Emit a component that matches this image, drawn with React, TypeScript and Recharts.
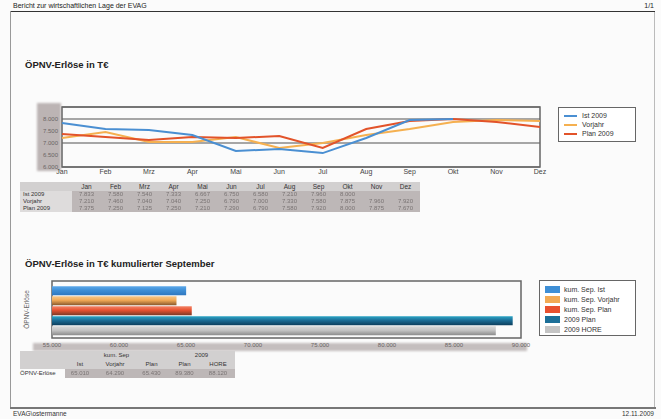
import React from "react";
import { LineChart, Line, XAxis, YAxis, CartesianGrid, ReferenceArea, BarChart, Bar } from "recharts";

// Monatswerte ÖPNV-Erlöse in T€
const MONTHS = ["Jan", "Feb", "Mrz", "Apr", "Mai", "Jun", "Jul", "Aug", "Sep", "Okt", "Nov", "Dez"];
const IST_2009 = [7833, 7580, 7540, 7333, 6667, 6750, 6580, 7210, 7960, 8000, null, null];
const VORJAHR = [7210, 7460, 7040, 7040, 7250, 6790, 7000, 7330, 7580, 7875, 7960, 7920];
const PLAN_2009 = [7375, 7250, 7125, 7250, 7210, 7290, 6790, 7580, 7920, 8000, 7875, 7670];
const LINE_TICKS = [6000, 6500, 7000, 7500, 8000];

// kumulierter September
const BAR_CATEGORY = "ÖPNV-Erlöse";
const KUM_SEP_IST = 65010;
const KUM_SEP_VORJAHR = 64290;
const KUM_SEP_PLAN = 65430;
const PLAN_2009_JAHR = 89380;
const HORE_2009 = 88120;
const BAR_TICKS = [55000, 60000, 65000, 70000, 75000, 80000, 85000, 90000];

const LINE_SERIES = [
  { key: "ist", name: "Ist 2009", color: "#4a8fd2" },
  { key: "vorjahr", name: "Vorjahr", color: "#f5b050" },
  { key: "plan", name: "Plan 2009", color: "#e2532a" },
];

const BAR_SERIES = [
  { key: "ist", name: "kum. Sep. Ist", color: "#3f8fd6", top: "#5ca8ea", bottom: "#2f78c0" },
  { key: "vorjahr", name: "kum. Sep. Vorjahr", color: "#f2aa55", top: "#f7c88c", bottom: "#8a5a2e" },
  { key: "plan", name: "kum. Sep. Plan", color: "#e8512f", top: "#f2866a", bottom: "#7e3a26" },
  { key: "plan2009", name: "2009 Plan", color: "#1c6f98", top: "#2ba6c6", bottom: "#0d3f5e" },
  { key: "hore", name: "2009 HORE", color: "#c4c4c4", top: "#dadada", bottom: "#8c8c8c" },
];

const lineData = MONTHS.map((m, i) => ({ month: m, ist: IST_2009[i], vorjahr: VORJAHR[i], plan: PLAN_2009[i] }));
const barData = [{
  name: BAR_CATEGORY, ist: KUM_SEP_IST, vorjahr: KUM_SEP_VORJAHR, plan: KUM_SEP_PLAN,
  plan2009: PLAN_2009_JAHR, hore: HORE_2009,
}];

const fmt = (v: number | null) => (v == null ? "" : v.toLocaleString("de-DE"));
const FONT = "'Liberation Sans', Arial, sans-serif";

const abs = (left: number, top: number, extra: React.CSSProperties = {}): React.CSSProperties => ({
  position: "absolute", left, top, ...extra,
});

function LegendBox({ items, kind, style }: {
  items: { name: string; color: string }[]; kind: "line" | "bar"; style: React.CSSProperties;
}) {
  return (
    <div style={{ ...style, border: "1px solid #666", background: "#fff", boxSizing: "border-box", padding: "3px 5px" }}>
      {items.map((it) => (
        <div key={it.name} style={{ display: "flex", alignItems: "center", height: kind === "line" ? 9 : 10 }}>
          {kind === "line"
            ? <span style={{ width: 13, height: 2, background: it.color, marginRight: 5 }} />
            : <span style={{ width: 15, height: 7, background: it.color, marginRight: 4 }} />}
          <span style={{ fontSize: 7, color: "#333" }}>{it.name}</span>
        </div>
      ))}
    </div>
  );
}

const cell: React.CSSProperties = { padding: 0, height: 7, lineHeight: "7px", textAlign: "center", whiteSpace: "nowrap" };
const valueCell: React.CSSProperties = { ...cell, background: "#bdb7b7", color: "#7a7474", filter: "blur(0.4px)" };

export default function App() {
  return (
    <div style={{ position: "absolute", left: 0, top: 0, width: 661, height: 419, background: "#fbfbfb", fontFamily: FONT, overflow: "hidden" }}>
      {/* Seitenrahmen */}
      <div style={abs(10, 11, { width: 645, height: 397, borderLeft: "1px solid #999", borderRight: "1px solid #bbb", boxSizing: "border-box" })} />
      <div style={abs(13, 2, { fontSize: 7, color: "#222" })}>Bericht zur wirtschaftlichen Lage der EVAG</div>
      <div style={abs(630, 2, { width: 24, textAlign: "right", fontSize: 7, color: "#222" })}>1/1</div>
      <div style={abs(11, 11, { width: 644, height: 1, background: "#333" })} />
      <div style={abs(10, 407, { width: 646, height: 2, background: "#777" })} />
      <div style={abs(13, 410, { fontSize: 6.5, color: "#333" })}>EVAG\ostermanne</div>
      <div style={abs(600, 410, { width: 54, textAlign: "right", fontSize: 6.5, color: "#333" })}>12.11.2009</div>

      {/* Liniendiagramm */}
      <div style={abs(25, 59, { fontSize: 9.5, fontWeight: "bold", color: "#222" })}>ÖPNV-Erlöse in T€</div>
      <div style={abs(37, 103, { width: 24, height: 68, background: "#bcb4b4", filter: "blur(1px)" })} />
      <div style={abs(0, 90)}>
        <LineChart width={661} height={100} data={lineData} margin={{ top: 17, right: 121, bottom: 3, left: 0 }}>
          <CartesianGrid vertical={false} stroke="#8a8a8a" strokeWidth={1.3} />
          <XAxis dataKey="month" scale="point" axisLine={false} tickLine={false} tickSize={0} tickMargin={2}
            interval={0} height={20} tick={{ fontSize: 7, fill: "#444", fontFamily: FONT }} />
          <YAxis domain={[6000, 8500]} ticks={LINE_TICKS} width={62} axisLine={false} tickLine={false}
            tickSize={0} tickMargin={4} tickFormatter={fmt} tick={{ fontSize: 6, fill: "#6a6464", fontFamily: FONT }} />
          <ReferenceArea x1="Jan" x2="Dez" y1={6000} y2={8500} fill="none" fillOpacity={0}
            stroke="#666" strokeWidth={1.5} ifOverflow="visible" />
          <Line dataKey="vorjahr" stroke="#f5b050" strokeWidth={2} dot={false} isAnimationActive={false} />
          <Line dataKey="plan" stroke="#e2532a" strokeWidth={2} dot={false} isAnimationActive={false} />
          <Line dataKey="ist" stroke="#4a8fd2" strokeWidth={2} dot={false} isAnimationActive={false} />
        </LineChart>
      </div>
      <LegendBox items={LINE_SERIES} kind="line" style={abs(558, 107, { width: 78, height: 35 })} />

      <table style={{ ...abs(20, 182), width: 400, borderCollapse: "collapse", tableLayout: "fixed", fontSize: 6, color: "#333" }}>
        <colgroup>
          <col style={{ width: 52 }} />
          {MONTHS.map((m) => <col key={m} style={{ width: 29 }} />)}
        </colgroup>
        <tbody>
          <tr style={{ background: "#d2d0d0" }}>
            <td style={{ ...cell, height: 9 }} />
            {MONTHS.map((m) => <td key={m} style={{ ...cell, height: 9, fontSize: 6.5 }}>{m}</td>)}
          </tr>
          {[
            { label: "Ist 2009", values: IST_2009 },
            { label: "Vorjahr", values: VORJAHR },
            { label: "Plan 2009", values: PLAN_2009 },
          ].map((row) => (
            <tr key={row.label}>
              <td style={{ ...cell, textAlign: "left", paddingLeft: 3, background: "#dedcdc" }}>{row.label}</td>
              {row.values.map((v, i) => <td key={i} style={valueCell}>{fmt(v)}</td>)}
            </tr>
          ))}
        </tbody>
      </table>

      {/* Balkendiagramm */}
      <div style={abs(25, 258, { fontSize: 9.5, fontWeight: "bold", color: "#222" })}>ÖPNV-Erlöse in T€  kumulierter September</div>
      <div style={abs(33, 343, { width: 494, height: 8, background: "#c4bebe", filter: "blur(1px)" })} />
      <div style={abs(0, 270)}>
        <BarChart width={661} height={82} layout="vertical" data={barData}
          margin={{ top: 11, right: 140, bottom: 0, left: 20 }} barCategoryGap="9%" barGap={1}>
          <defs>
            {BAR_SERIES.map((s) => (
              <linearGradient key={s.key} id={`g-${s.key}`} x1="0" y1="0" x2="0" y2="1">
                <stop offset="0%" stopColor={s.top} />
                <stop offset="45%" stopColor={s.color} />
                <stop offset="100%" stopColor={s.bottom} />
              </linearGradient>
            ))}
          </defs>
          <XAxis type="number" domain={[55000, 90000]} ticks={BAR_TICKS} allowDataOverflow axisLine={false}
            tickLine={false} tickSize={0} tickMargin={5} height={14} tickFormatter={fmt}
            tick={{ fontSize: 6, fill: "#6a6464", fontFamily: FONT }} />
          <YAxis type="category" dataKey="name" width={32} tick={false} axisLine={false} tickLine={false}
            label={{ value: BAR_CATEGORY, angle: -90, position: "insideLeft", offset: 7,
              style: { fontSize: 6.5, fill: "#666", textAnchor: "middle", fontFamily: FONT } }} />
          <ReferenceArea x1={55000} x2={90000} y1={BAR_CATEGORY} y2={BAR_CATEGORY} fill="none" fillOpacity={0}
            stroke="#666" strokeWidth={1.5} ifOverflow="visible" />
          {BAR_SERIES.map((s) => (
            <Bar key={s.key} dataKey={s.key} name={s.name} fill={`url(#g-${s.key})`} isAnimationActive={false} />
          ))}
        </BarChart>
      </div>
      <LegendBox items={BAR_SERIES} kind="bar" style={abs(539, 280, { width: 97, height: 56 })} />

      <table style={{ ...abs(20, 351), width: 215, borderCollapse: "collapse", tableLayout: "fixed", fontSize: 6, color: "#333" }}>
        <colgroup>
          <col style={{ width: 45 }} /><col style={{ width: 30 }} /><col style={{ width: 40 }} />
          <col style={{ width: 33 }} /><col style={{ width: 33 }} /><col style={{ width: 34 }} />
        </colgroup>
        <tbody>
          <tr style={{ background: "#d2d0d0" }}>
            <td style={{ ...cell, height: 9 }} />
            <td colSpan={3} style={{ ...cell, height: 9 }}>kum. Sep</td>
            <td colSpan={2} style={{ ...cell, height: 9 }}>2009</td>
          </tr>
          <tr style={{ background: "#d2d0d0" }}>
            <td style={{ ...cell, height: 9 }} />
            {["Ist", "Vorjahr", "Plan", "Plan", "HORE"].map((h, i) => <td key={i} style={{ ...cell, height: 9 }}>{h}</td>)}
          </tr>
          <tr>
            <td style={{ ...cell, height: 9, textAlign: "left" }}>{BAR_CATEGORY}</td>
            {[KUM_SEP_IST, KUM_SEP_VORJAHR, KUM_SEP_PLAN, PLAN_2009_JAHR, HORE_2009].map((v, i) => (
              <td key={i} style={{ ...valueCell, height: 9 }}>{fmt(v)}</td>
            ))}
          </tr>
        </tbody>
      </table>
    </div>
  );
}
